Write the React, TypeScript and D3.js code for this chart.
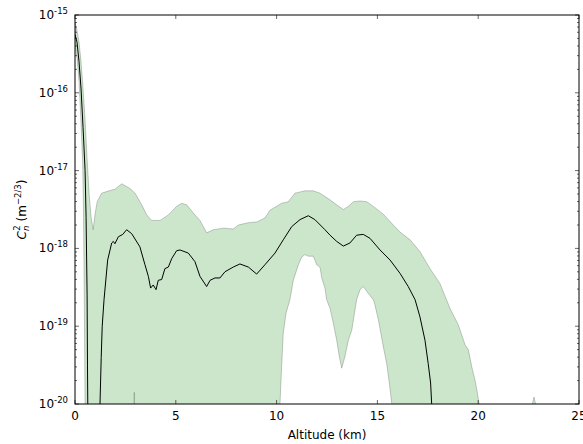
import React, { useEffect, useRef } from "react";
import { select, scaleLinear, scaleLog, line } from "d3";

// altitude (km) and log10 of Cn2
const meanAlt = [
  0, 0.1, 0.2, 0.3, 0.4, 0.5, 0.55, 0.6, 0.62, 0.64, 0.7, 1.2, 1.24, 1.3, 1.35,
  1.44, 1.62, 1.82, 1.9, 1.98, 2.15, 2.37, 2.56, 2.81, 3.22, 3.47, 3.64, 3.75,
  3.88, 4.02, 4.13, 4.3, 4.46, 4.63, 4.8, 5.04, 5.21, 5.62, 5.95, 6.2, 6.53,
  6.7, 6.94, 7.19, 7.44, 7.85, 8.18, 8.6, 9.01, 9.42, 9.92, 10.33, 10.75,
  11.16, 11.57, 11.9, 12.4, 12.65, 12.98, 13.31, 13.64, 13.97, 14.3, 14.63,
  15.13, 15.63, 16.12, 16.53, 16.87, 17.11, 17.36, 17.52, 17.64, 17.69, 17.75,
  18, 25,
];
const meanLog = [
  -15.25, -15.35, -15.6, -15.95, -16.45, -17.0, -17.6, -18.6, -19.5, -20.2,
  -21, -21, -20.0, -19.4, -19.0, -18.66, -18.15, -17.93, -17.91, -17.94, -17.85,
  -17.82, -17.76, -17.81, -17.98, -18.21, -18.36, -18.51, -18.47, -18.53,
  -18.41, -18.4, -18.26, -18.24, -18.13, -18.03, -18.02, -18.06, -18.17,
  -18.36, -18.49, -18.41, -18.38, -18.38, -18.3, -18.24, -18.2, -18.24, -18.33,
  -18.21, -18.06, -17.89, -17.72, -17.63, -17.58, -17.63, -17.76, -17.83,
  -17.91, -17.97, -17.93, -17.83, -17.82, -17.87, -18.02, -18.15, -18.32,
  -18.49, -18.66, -18.88, -19.18, -19.48, -19.73, -19.99, -20.3, -21, -21,
];

const upperAlt = [
  0, 0.1, 0.2, 0.3, 0.4, 0.5, 0.6, 0.7, 0.8, 0.9, 1.0, 1.1, 1.32, 1.57, 1.82,
  1.98, 2.32, 2.73, 2.98, 3.31, 3.56, 3.8, 4.22, 4.63, 5.04, 5.29, 5.54, 5.95,
  6.2, 6.53, 6.86, 7.36, 7.85, 8.1, 8.59, 9.01, 9.42, 9.67, 10.25, 10.58,
  10.91, 11.41, 11.82, 12.15, 12.56, 12.98, 13.31, 13.56, 13.81, 14.14, 14.47,
  14.8, 15.29, 15.79, 16.12, 16.62, 17.11, 17.61, 18.1, 18.6, 19.01, 19.35,
  19.51, 19.68, 19.84, 19.96, 20.04, 20.1, 20.2, 22.4, 22.77, 23.1, 23.2, 25,
];
const upperLog = [
  -15.1, -15.2, -15.35, -15.6, -15.95, -16.35, -16.85, -17.3, -17.6, -17.76,
  -17.55, -17.4, -17.29, -17.27, -17.25, -17.24, -17.17, -17.23, -17.29,
  -17.44, -17.57, -17.64, -17.64, -17.57, -17.46, -17.42, -17.44, -17.57,
  -17.64, -17.8, -17.76, -17.74, -17.75, -17.7, -17.67, -17.66, -17.61, -17.51,
  -17.42, -17.4, -17.29, -17.26, -17.26, -17.29, -17.36, -17.44, -17.5, -17.46,
  -17.4, -17.39, -17.4, -17.46, -17.56, -17.7, -17.79, -17.89, -18.04, -18.26,
  -18.45, -18.77, -18.98, -19.24, -19.3, -19.52, -19.69, -19.86, -19.99,
  -20.3, -21, -20.3, -19.91, -20.3, -21, -21,
];

const lowerAlt = [
  0, 0.1, 0.2, 0.3, 0.38, 0.42, 0.46, 0.5, 0.52, 2.85, 2.94, 3.03, 10.05,
  10.12, 10.17, 10.25, 10.33, 10.47, 10.66, 10.83, 11.08, 11.25, 11.41, 11.57,
  11.82, 11.99, 12.15, 12.24, 12.4, 12.48, 12.65, 12.81, 12.98, 13.11, 13.23,
  13.39, 13.56, 13.73, 13.89, 13.97, 14.14, 14.3, 14.55, 14.8, 14.88, 15.05,
  15.29, 15.46, 15.59, 15.71, 15.8, 15.9, 25,
];
const lowerLog = [
  -15.4, -15.55, -15.85, -16.4, -16.9, -17.5, -18.6, -20.1, -21, -21, -19.85,
  -21, -21, -20.3, -19.99, -19.52, -19.09, -18.83, -18.66, -18.41, -18.21,
  -18.11, -18.08, -18.1, -18.1, -18.21, -18.24, -18.38, -18.51, -18.66, -18.77,
  -18.96, -19.18, -19.39, -19.54, -19.39, -19.18, -19.05, -18.79, -18.66,
  -18.53, -18.49, -18.58, -18.66, -18.73, -18.92, -19.26, -19.48, -19.73,
  -19.99, -20.3, -21, -21,
];

const xTicks = [0, 5, 10, 15, 20, 25];
const yDecades = [-20, -19, -18, -17, -16, -15];
const minorMult = [2, 3, 4, 5, 6, 7, 8, 9];

const W = 583;
const H = 444;
const m = { left: 75, right: 579, top: 15, bottom: 404 };
const font = "DejaVu Sans";

function App() {
  const svgRef = useRef(null);

  useEffect(() => {
    const svg = select(svgRef.current);
    svg.selectAll("*").remove();

    const x = scaleLinear().domain([0, 25]).range([m.left, m.right]);
    const y = scaleLog().domain([1e-20, 1e-15]).range([m.bottom, m.top]);

    svg
      .append("clipPath")
      .attr("id", "plot")
      .append("rect")
      .attr("x", m.left)
      .attr("y", m.top)
      .attr("width", m.right - m.left)
      .attr("height", m.bottom - m.top);

    const g = svg.append("g").attr("clip-path", "url(#plot)");

    const upper = upperAlt.map((a, i) => [a, upperLog[i]]);
    const lower = lowerAlt.map((a, i) => [a, lowerLog[i]]).reverse();
    const mean = meanAlt.map((a, i) => [a, meanLog[i]]);

    const gen = line()
      .x((d) => x(d[0]))
      .y((d) => y(Math.pow(10, d[1])));

    // uncertainty band
    g.append("path")
      .attr("d", gen([...upper, ...lower]) + "Z")
      .attr("fill", "rgb(0,128,0)")
      .attr("fill-opacity", 0.2)
      .attr("stroke", "#000")
      .attr("stroke-opacity", 0.2)
      .attr("stroke-width", 1);

    // mean profile
    g.append("path")
      .attr("d", gen(mean))
      .attr("fill", "none")
      .attr("stroke", "#000")
      .attr("stroke-width", 1);

    // frame
    svg
      .append("rect")
      .attr("x", m.left)
      .attr("y", m.top)
      .attr("width", m.right - m.left)
      .attr("height", m.bottom - m.top)
      .attr("fill", "none")
      .attr("stroke", "#000")
      .attr("stroke-width", 1);

    // x ticks (inward, top and bottom)
    const ticks = svg.append("g").attr("stroke", "#000").attr("stroke-width", 0.6);
    xTicks.forEach((t) => {
      ticks.append("line").attr("x1", x(t)).attr("x2", x(t)).attr("y1", m.bottom).attr("y2", m.bottom - 4);
      ticks.append("line").attr("x1", x(t)).attr("x2", x(t)).attr("y1", m.top).attr("y2", m.top + 4);
    });

    svg
      .append("g")
      .selectAll("text")
      .data(xTicks)
      .join("text")
      .attr("x", (d) => x(d))
      .attr("y", 420)
      .attr("text-anchor", "middle")
      .attr("font-family", font)
      .attr("font-size", 12)
      .text((d) => d);

    // y ticks
    yDecades.forEach((d) => {
      const v = Math.pow(10, d);
      ticks.append("line").attr("x1", m.left).attr("x2", m.left + 4).attr("y1", y(v)).attr("y2", y(v));
      ticks.append("line").attr("x1", m.right).attr("x2", m.right - 4).attr("y1", y(v)).attr("y2", y(v));
      if (d < -15) {
        minorMult.forEach((k) => {
          const mv = k * v;
          ticks.append("line").attr("x1", m.left).attr("x2", m.left + 2).attr("y1", y(mv)).attr("y2", y(mv));
          ticks.append("line").attr("x1", m.right).attr("x2", m.right - 2).attr("y1", y(mv)).attr("y2", y(mv));
        });
      }
    });

    const yl = svg
      .append("g")
      .selectAll("text")
      .data(yDecades)
      .join("text")
      .attr("x", 68)
      .attr("y", (d) => y(Math.pow(10, d)) + 4)
      .attr("text-anchor", "end")
      .attr("font-family", font)
      .attr("font-size", 12);
    yl.append("tspan").text("10");
    yl.append("tspan")
      .attr("font-size", 8.5)
      .attr("dy", -5)
      .text((d) => "-" + Math.abs(d));

    // axis labels
    svg
      .append("text")
      .attr("x", (m.left + m.right) / 2)
      .attr("y", 439)
      .attr("text-anchor", "middle")
      .attr("font-family", font)
      .attr("font-size", 12)
      .text("Altitude (km)");

    const lab = svg
      .append("text")
      .attr("transform", `translate(26, ${(m.top + m.bottom) / 2}) rotate(-90)`)
      .attr("text-anchor", "middle")
      .attr("font-family", font)
      .attr("font-size", 12);
    lab.append("tspan").attr("font-style", "italic").text("C");
    lab.append("tspan").attr("font-style", "italic").attr("font-size", 8.5).attr("dy", 3).text("n");
    lab.append("tspan").attr("font-size", 8.5).attr("dx", -5).attr("dy", -9).text("2");
    lab.append("tspan").attr("dy", 6).text(" (m");
    lab.append("tspan").attr("font-size", 8.5).attr("dy", -5).text("\u22122/3");
    lab.append("tspan").attr("dy", 5).text(")");
  }, []);

  return (
    <svg
      ref={svgRef}
      width={W}
      height={H}
      style={{ position: "absolute", left: 0, top: 0, background: "#fff" }}
    />
  );
}

export default App;
